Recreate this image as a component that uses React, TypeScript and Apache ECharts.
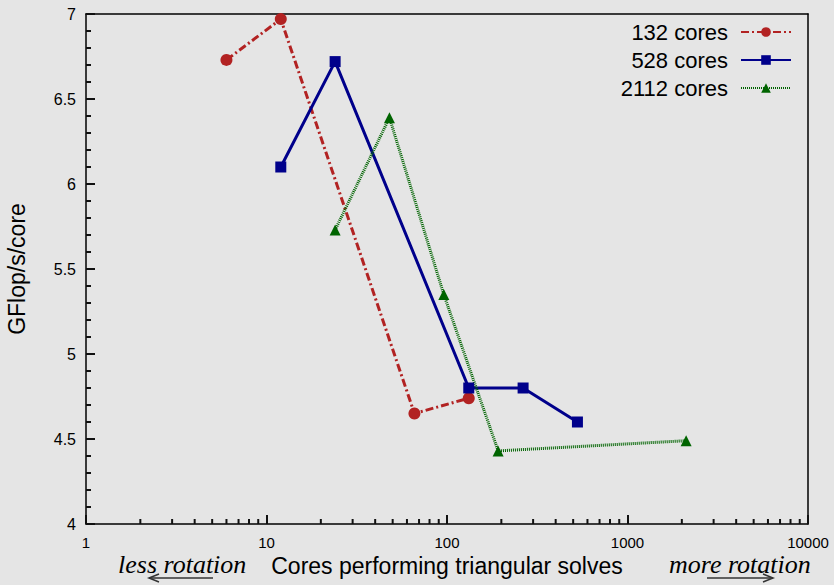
import React, { useEffect, useRef } from "react";
import * as echarts from "echarts";

const x132 = [6, 12, 66, 132];
const y132 = [6.73, 6.97, 4.65, 4.74];
const x528 = [12, 24, 132, 264, 528];
const y528 = [6.1, 6.72, 4.8, 4.8, 4.6];
const x2112 = [24, 48, 96, 192, 2112];
const y2112 = [5.73, 6.39, 5.35, 4.43, 4.49];
const seriesNames = ["132 cores", "528 cores", "2112 cores"];
const minorTicksX = [
  2, 3, 4, 5, 6, 7, 8, 9,
  20, 30, 40, 50, 60, 70, 80, 90,
  200, 300, 400, 500, 600, 700, 800, 900,
  2000, 3000, 4000, 5000, 6000, 7000, 8000, 9000,
];
const xAxisTitle = "Cores performing triangular solves";
const yAxisTitle = "GFlop/s/core";
const leftNote = "less rotation";
const rightNote = "more rotation";

const SANS = "'Liberation Sans', Arial, sans-serif";
const SERIF = "'Liberation Serif', 'DejaVu Serif', serif";
const TICK = "#111111";

function pairs(xs: number[], ys: number[]) {
  return xs.map((x, i) => [x, ys[i]]);
}

export default function App() {
  const ref = useRef<HTMLDivElement>(null);
  useEffect(() => {
    document.body.style.margin = "0";
    const chart = echarts.init(ref.current!, null, { renderer: "svg" });
    const frameAxis = {
      axisLine: { show: true, lineStyle: { color: "#000", width: 1.5 } },
      axisTick: { show: false },
      axisLabel: { show: false },
      splitLine: { show: false },
    };
    chart.setOption({
      animation: false,
      backgroundColor: "#e5e5e5",
      grid: { left: 86, right: 26, top: 14, bottom: 61, outerBoundsMode: "none", containLabel: false },
      legend: {
        data: seriesNames,
        orient: "vertical",
        right: 37,
        top: 15,
        align: "right",
        itemWidth: 50,
        itemHeight: 12,
        itemGap: 4,
        textStyle: { fontSize: 22, fontFamily: SANS, color: "#000", lineHeight: 24, padding: [0, 8, 0, 0] },
      },
      xAxis: [
        {
          type: "log",
          logBase: 10,
          min: 1,
          max: 10000,
          name: xAxisTitle,
          nameLocation: "middle",
          nameGap: 28,
          nameTextStyle: { fontSize: 23, fontFamily: SANS, color: "#000" },
          axisLine: { show: true, lineStyle: { color: "#000", width: 1.5 } },
          axisTick: { show: true, inside: true, length: 9, lineStyle: { color: TICK, width: 2 } },
          axisLabel: {
            fontSize: 15,
            lineHeight: 15,
            fontFamily: SANS,
            color: "#000",
            margin: 11,
            formatter: (v: number) => String(Math.round(v)),
          },
          splitLine: { show: false },
          minorTick: { show: false },
          z: 5,
        },
        { type: "log", logBase: 10, min: 1, max: 10000, position: "top", ...frameAxis },
      ],
      yAxis: [
        {
          type: "value",
          min: 4,
          max: 7,
          interval: 0.5,
          name: yAxisTitle,
          nameLocation: "middle",
          nameGap: 58,
          nameTextStyle: { fontSize: 23, fontFamily: SANS, color: "#000" },
          axisLine: { show: true, lineStyle: { color: "#000", width: 1.5 } },
          axisTick: { show: true, inside: true, length: 9, lineStyle: { color: TICK, width: 2 } },
          minorTick: { show: true, splitNumber: 5, length: 5, lineStyle: { color: TICK, width: 2 } },
          axisLabel: { fontSize: 16, fontFamily: SANS, color: "#000", margin: 10 },
          splitLine: { show: false },
          z: 5,
        },
        { type: "value", min: 4, max: 7, interval: 0.5, position: "right", ...frameAxis },
      ],
      series: [
        {
          name: seriesNames[0],
          type: "line",
          data: pairs(x132, y132),
          symbol: "circle",
          symbolSize: 12,
          color: "#b22222",
          lineStyle: { width: 3, type: [8, 3, 2, 3] },
          itemStyle: { color: "#b22222" },
        },
        {
          name: seriesNames[1],
          type: "line",
          data: pairs(x528, y528),
          symbol: "rect",
          symbolSize: 11,
          color: "#00008b",
          lineStyle: { width: 3, type: "solid" },
          itemStyle: { color: "#00008b" },
        },
        {
          name: seriesNames[2],
          type: "line",
          data: pairs(x2112, y2112),
          symbol: "triangle",
          symbolSize: 11,
          color: "#006400",
          lineStyle: { width: 3, type: [1, 1] },
          itemStyle: { color: "#006400" },
        },
        {
          name: "minorTicks",
          type: "custom",
          silent: true,
          clip: false,
          z: 10,
          encode: { x: 0, y: 1 },
          data: minorTicksX.map((v) => [v, 4]),
          renderItem: (params: any, api: any) => {
            const p = api.coord([api.value(0), api.value(1)]);
            return {
              type: "line",
              shape: { x1: p[0], y1: p[1], x2: p[0], y2: p[1] - 5 },
              style: { stroke: TICK, lineWidth: 2 },
            };
          },
        },
      ],
      graphic: [
        {
          type: "text",
          x: 118,
          y: 564,
          style: { text: leftNote, font: `italic 26px ${SERIF}`, lineHeight: 26, fill: "#000", verticalAlign: "middle" },
        },
        {
          type: "line",
          shape: { x1: 149, y1: 578, x2: 213, y2: 578 },
          style: { stroke: "#333", lineWidth: 1.5 },
        },
        {
          type: "polyline",
          shape: { points: [[159, 574], [149, 578], [159, 582]] },
          style: { stroke: "#333", lineWidth: 1.5, fill: null },
        },
        {
          type: "text",
          x: 669,
          y: 564,
          style: { text: rightNote, font: `italic 26px ${SERIF}`, lineHeight: 26, fill: "#000", verticalAlign: "middle" },
        },
        {
          type: "line",
          shape: { x1: 707, y1: 578, x2: 773, y2: 578 },
          style: { stroke: "#333", lineWidth: 1.5 },
        },
        {
          type: "polyline",
          shape: { points: [[763, 574], [773, 578], [763, 582]] },
          style: { stroke: "#333", lineWidth: 1.5, fill: null },
        },
      ],
    });
    return () => chart.dispose();
  }, []);
  return <div ref={ref} style={{ width: 834, height: 585 }} />;
}
